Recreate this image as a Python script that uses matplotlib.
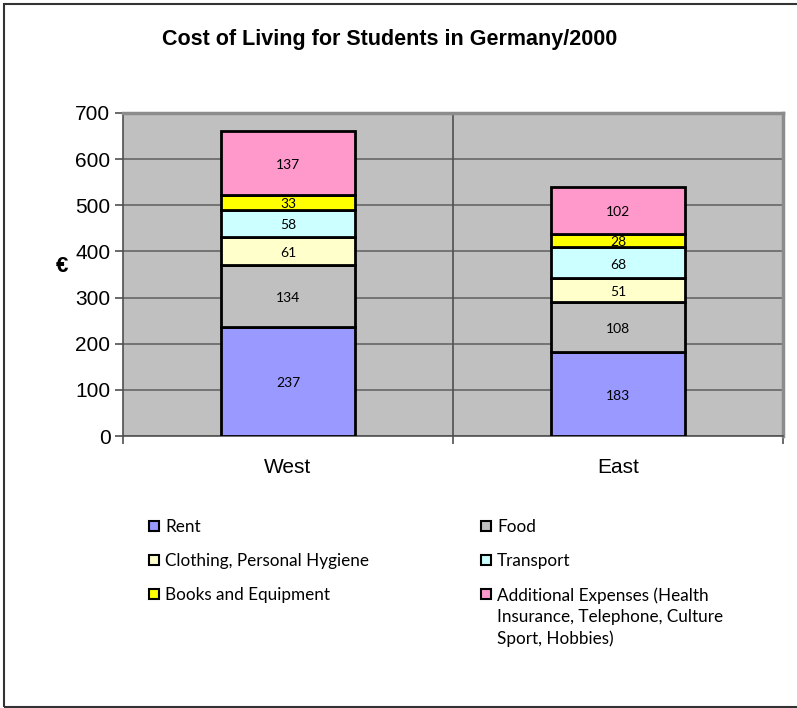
import matplotlib.pyplot as plt
from matplotlib.patches import Rectangle

# Monatliche Ausgaben (Euro) je Region
regions = ["West", "East"]
categories = ["Rent", "Food", "Clothing, Personal Hygiene", "Transport",
              "Books and Equipment",
              "Additional Expenses (Health\nInsurance, Telephone, Culture\nSport, Hobbies)"]
rent = [237, 183]
food = [134, 108]
clothing = [61, 51]
transport = [58, 68]
books = [33, 28]
additional = [137, 102]
colors = ["#9999FF", "#C0C0C0", "#FFFFCC", "#CCFFFF", "#FFFF00", "#FF99CC"]

W, H = 797, 708
fig = plt.figure(figsize=(W / 100, H / 100), dpi=100)
px = lambda x, y: (x / W, 1 - y / H)

ax = fig.add_axes([123 / W, 1 - 436 / H, (783 - 123) / W, (436 - 113) / H])
ax.set_facecolor("#C0C0C0")

xs = [0.5, 1.5]
series = [rent, food, clothing, transport, books, additional]
bottom = [0, 0]
for vals, c in zip(series, colors):
    bars = ax.bar(xs, vals, width=0.405, bottom=bottom, color=c,
                  edgecolor="black", linewidth=2, zorder=3)
    for b, v in zip(bars, vals):
        ax.annotate(str(v), (b.get_x() + b.get_width() / 2, b.get_y() + v / 2),
                    xytext=(0, -1.5), textcoords="offset points",
                    ha="center", va="center", fontsize=10, family="Lato", zorder=4)
    bottom = [b0 + v for b0, v in zip(bottom, vals)]

ax.set_xlim(0, 2)
ax.set_ylim(0, 700)
ax.set_yticks(range(0, 701, 100))
ax.yaxis.grid(True, color="#666666", linewidth=1.2, zorder=1)
ax.axvline(1, color="#505050", linewidth=1.2, zorder=1)
ax.set_axisbelow(True)

ax.set_xticks(xs)
ax.set_xticklabels(regions, family="Liberation Sans", fontsize=15)
ax.set_xticks([0, 1, 2], minor=True)
ax.tick_params(axis="x", which="major", length=0, pad=16)
ax.tick_params(axis="x", which="minor", length=6, width=1.2, color="#505050")
ax.tick_params(axis="y", length=6, width=1.2, color="#505050", pad=3)
for lab in ax.get_yticklabels():
    lab.set_family("Liberation Sans")
    lab.set_fontsize(15)

for s in ["top", "right"]:
    ax.spines[s].set_color("#8C8C8C")
    ax.spines[s].set_linewidth(2.5)
for s in ["left", "bottom"]:
    ax.spines[s].set_color("#505050")
    ax.spines[s].set_linewidth(1.2)

fig.text(*px(62, 267), "€", fontsize=16, fontweight="bold",
         family="Liberation Sans", ha="center", va="center")
fig.text(*px(390, 39), "Cost of Living for Students in Germany/2000",
         fontsize=15.5, fontweight="bold", family="Liberation Sans",
         ha="center", va="center")

# Legende in zwei Spalten
legend_pos = [(149, 526), (481, 526), (149, 560), (481, 560), (149, 594), (481, 594)]
for (lx, ly), name, c in zip(legend_pos, categories, colors):
    x0, y0 = px(lx, ly + 5)
    fig.add_artist(Rectangle((x0, y0), 10 / W, 10 / H, transform=fig.transFigure,
                             facecolor=c, edgecolor="black", linewidth=1.5))
    fig.text(*px(lx + 16, ly - 7), name, fontsize=12.3, family="Lato",
             ha="left", va="top", linespacing=1.42)

# Rahmen um das Diagramm
fig.add_artist(Rectangle(px(3.5, 706.5), (W + 10) / W, 703 / H,
                         transform=fig.transFigure, facecolor="none",
                         edgecolor="#333333", linewidth=1.5))

fig.savefig("out.png", dpi=100)
